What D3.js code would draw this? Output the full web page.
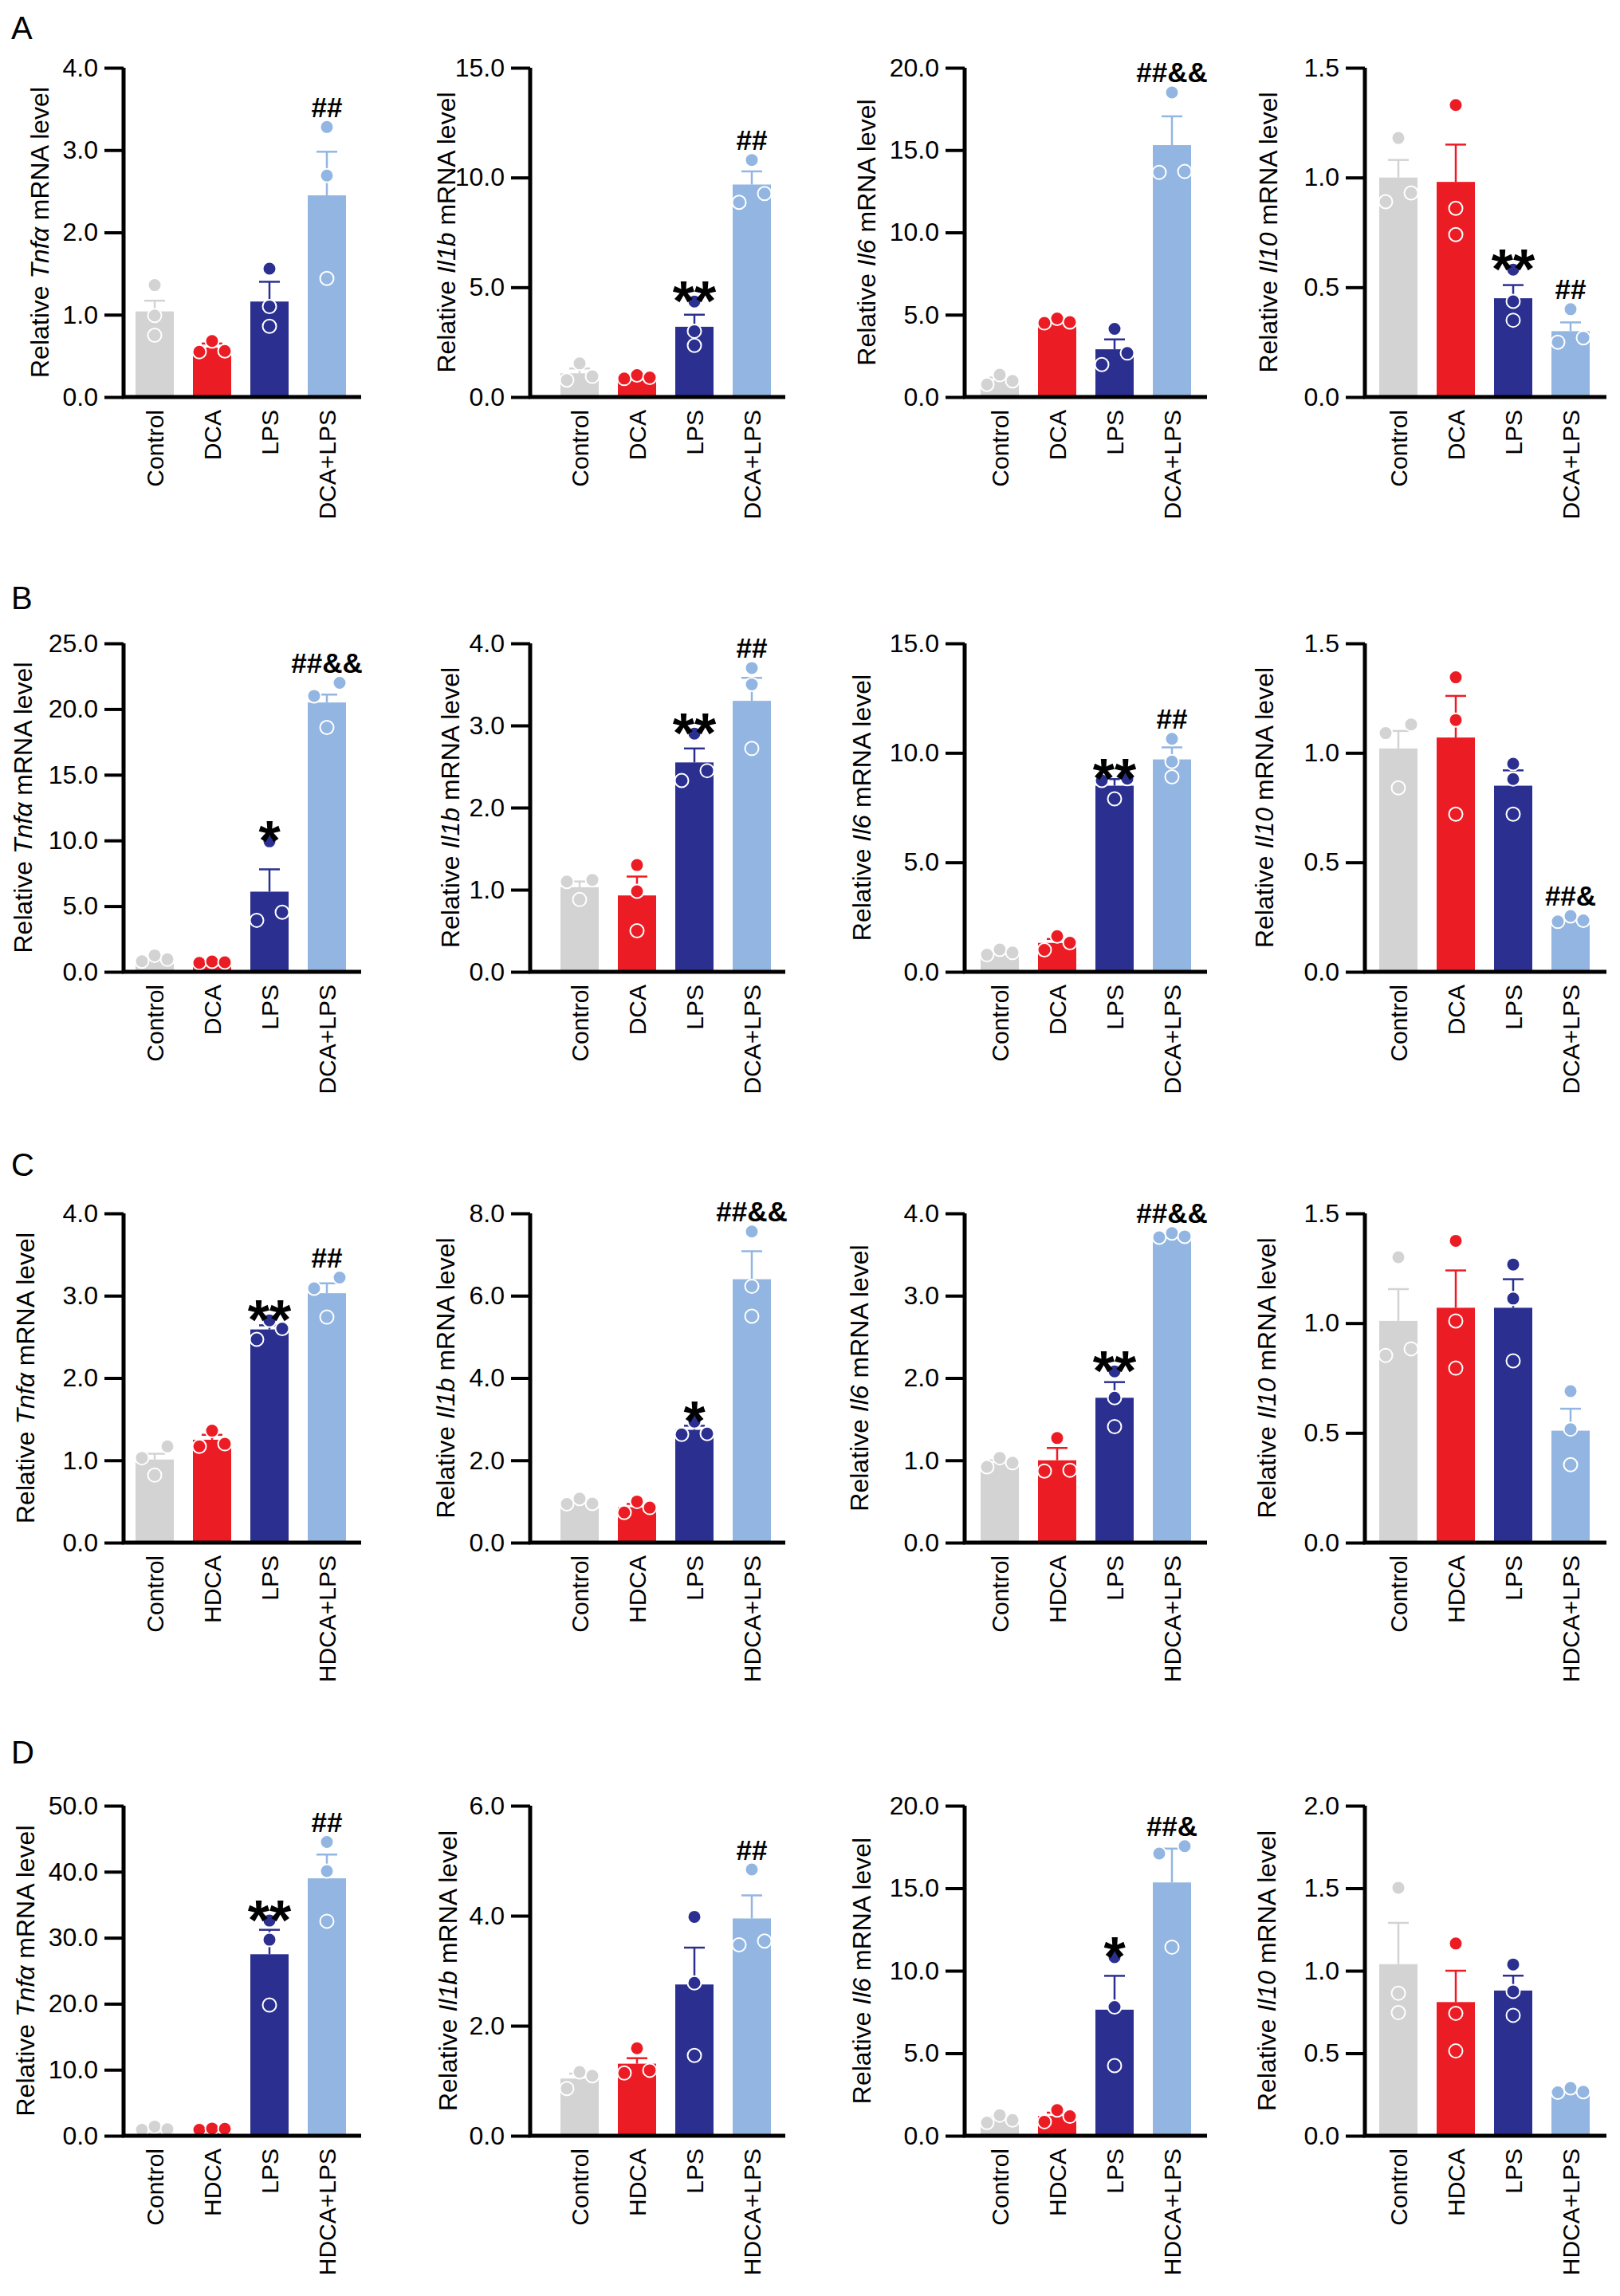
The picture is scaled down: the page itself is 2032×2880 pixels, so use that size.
<!DOCTYPE html>
<html><head><meta charset="utf-8">
<script src="https://cdn.jsdelivr.net/npm/d3@7"></script>
<style>
body{margin:0;background:#fff;}
text{font-family:"Liberation Sans", Arial, Helvetica, sans-serif;fill:#000;}
</style>
</head><body>
<svg id="fig" width="2032" height="2880"></svg>
<script>
// ---------------- DATA ----------------
const panelLetters = ["A", "B", "C", "D"];
const categoriesDCA = ["Control", "DCA", "LPS", "DCA+LPS"];
const categoriesHDCA = ["Control", "HDCA", "LPS", "HDCA+LPS"];
const genes = ["Tnfα", "Il1b", "Il6", "Il10"];
const groupColors = ["#d3d3d3", "#ec1c24", "#2b3090", "#92b6e1"];

// y-axis maxima and tick steps, per row (A..D) and gene
const yMaxA = [4, 15, 20, 1.5];
const yMaxB = [25, 4, 15, 1.5];
const yMaxC = [4, 8, 4, 1.5];
const yMaxD = [50, 6, 20, 2];
const yStepA = [1, 5, 5, 0.5];
const yStepB = [5, 1, 5, 0.5];
const yStepC = [1, 2, 1, 0.5];
const yStepD = [10, 2, 5, 0.5];

// means, per gene [Control, BA, LPS, BA+LPS]
const meansA = [[1.04, 0.60, 1.16, 2.45], [1.08, 0.90, 3.20, 9.68], [1.00, 4.60, 2.90, 15.30], [1.00, 0.98, 0.45, 0.30]];
const meansB = [[1.00, 0.72, 6.10, 20.50], [1.03, 0.93, 2.55, 3.30], [0.90, 1.32, 8.50, 9.70], [1.02, 1.07, 0.85, 0.24]];
const meansC = [[1.01, 1.25, 2.59, 3.03], [0.99, 0.86, 2.74, 6.40], [0.97, 1.00, 1.76, 3.73], [1.01, 1.07, 1.07, 0.51]];
const meansD = [[1.10, 1.00, 27.50, 39.00], [1.04, 1.31, 2.75, 3.95], [1.00, 1.20, 7.64, 15.35], [1.04, 0.81, 0.88, 0.273]];

// SEM
const semA = [[0.13, 0.05, 0.24, 0.53], [0.22, 0.05, 0.55, 0.60], [0.18, 0.08, 0.60, 1.75], [0.08, 0.17, 0.06, 0.04]];
const semB = [[0.13, 0.03, 1.70, 0.60], [0.07, 0.23, 0.17, 0.28], [0.08, 0.18, 0.30, 0.55], [0.08, 0.19, 0.07, 0.01]];
const semC = [[0.07, 0.06, 0.05, 0.12], [0.04, 0.08, 0.10, 0.68], [0.03, 0.15, 0.19, 0.02], [0.145, 0.17, 0.13, 0.10]];
const semD = [[0.15, 0.08, 3.70, 3.60], [0.09, 0.10, 0.67, 0.42], [0.13, 0.20, 2.05, 2.05], [0.25, 0.19, 0.09, 0.01]];

// individual replicate points
const pointsA = [
  [[1.36, 0.99, 0.75], [0.68, 0.56, 0.55], [1.56, 1.10, 0.86], [3.28, 2.69, 1.44]],
  [[1.53, 0.77, 0.94], [0.84, 1.00, 0.89], [4.35, 3.00, 2.35], [10.80, 8.87, 9.27]],
  [[1.35, 0.76, 0.98], [4.50, 4.77, 4.55], [4.14, 1.97, 2.67], [18.50, 13.65, 13.70]],
  [[1.18, 0.89, 0.93], [1.33, 0.86, 0.74], [0.58, 0.436, 0.35], [0.40, 0.25, 0.27]]
];
const pointsB = [
  [[1.25, 0.80, 0.95], [0.68, 0.79, 0.73], [9.93, 3.92, 4.54], [22.00, 21.00, 18.60]],
  [[1.10, 1.12, 0.88], [1.30, 0.98, 0.50], [2.90, 2.33, 2.45], [3.70, 3.50, 2.72]],
  [[0.78, 1.02, 0.88], [1.00, 1.63, 1.33], [8.74, 8.82, 7.90], [10.64, 9.60, 8.90]],
  [[1.13, 1.09, 0.84], [1.345, 1.15, 0.72], [0.95, 0.88, 0.72], [0.23, 0.255, 0.235]]
];
const pointsC = [
  [[1.17, 1.03, 0.82], [1.36, 1.17, 1.20], [2.70, 2.47, 2.60], [3.22, 3.09, 2.74]],
  [[0.94, 1.07, 0.95], [0.73, 1.00, 0.85], [2.94, 2.63, 2.65], [7.56, 6.23, 5.50]],
  [[0.92, 1.03, 0.97], [1.27, 0.87, 0.88], [2.08, 1.76, 1.41], [3.71, 3.76, 3.72]],
  [[1.30, 0.853, 0.883], [1.375, 1.01, 0.795], [1.267, 1.112, 0.828], [0.69, 0.517, 0.355]]
];
const pointsD = [
  [[0.90, 1.40, 1.00], [0.90, 1.10, 1.05], [32.60, 29.70, 19.80], [44.50, 40.10, 32.50]],
  [[1.16, 1.09, 0.86], [1.59, 1.14, 1.19], [3.98, 2.78, 1.46], [4.84, 3.47, 3.54]],
  [[0.80, 1.25, 0.95], [0.85, 1.56, 1.18], [10.82, 7.80, 4.25], [17.55, 17.10, 11.43]],
  [[1.503, 0.864, 0.746], [1.165, 0.742, 0.514], [1.038, 0.875, 0.73], [0.263, 0.29, 0.267]]
];

// significance labels
const statsA = [["", "", "", "##"], ["", "", "**", "##"], ["", "", "", "##&&"], ["", "", "**", "##"]];
const statsB = [["", "", "*", "##&&"], ["", "", "**", "##"], ["", "", "**", "##"], ["", "", "", "##&"]];
const statsC = [["", "", "**", "##"], ["", "", "*", "##&&"], ["", "", "**", "##&&"], ["", "", "", ""]];
const statsD = [["", "", "**", "##"], ["", "", "", "##"], ["", "", "*", "##&"], ["", "", "", ""]];

// ---------------- LAYOUT ----------------
const rowTop = [85, 807, 1522, 2265];
const rowBottom = [498, 1219, 1935, 2679];
const letterBaseline = [49, 764, 1475, 2212];
const colX = [155, 665, 1210, 1712];
const colLead = [3, 26, 8, 6];
const colAxisLen = [298, 320, 304, 303];
const bandStep = 72;
const barWidth = 48;
const titleOffsets = [[-105, -105, -123, -121], [-126, -100, -129, -126], [-123, -106, -132, -123], [-123, -103, -129, -123]];

const rows = [
  {cats: categoriesDCA, yMax: yMaxA, yStep: yStepA, means: meansA, sem: semA, pts: pointsA, stats: statsA},
  {cats: categoriesDCA, yMax: yMaxB, yStep: yStepB, means: meansB, sem: semB, pts: pointsB, stats: statsB},
  {cats: categoriesHDCA, yMax: yMaxC, yStep: yStepC, means: meansC, sem: semC, pts: pointsC, stats: statsC},
  {cats: categoriesHDCA, yMax: yMaxD, yStep: yStepD, means: meansD, sem: semD, pts: pointsD, stats: statsD}
];

const svg = d3.select("#fig");
svg.append("rect").attr("width", 2032).attr("height", 2880).attr("fill", "#fff");

const R = 8.5, DX = 16, THR = 17;

function swarm(vals, y) {
  const idx = vals.map((v, i) => i).sort((a, b) => vals[a] - vals[b]);
  const off = vals.map(() => 0);
  const clusters = [];
  let cur = [idx[0]];
  for (let k = 1; k < idx.length; k++) {
    if (Math.abs(y(vals[idx[k]]) - y(vals[idx[k - 1]])) < THR) cur.push(idx[k]);
    else { clusters.push(cur); cur = [idx[k]]; }
  }
  clusters.push(cur);
  clusters.forEach(c => {
    if (c.length === 2) { off[c[0]] = -DX; off[c[1]] = DX; }
    else if (c.length >= 3) { off[c[0]] = -DX; off[c[1]] = DX; off[c[2]] = 0; }
  });
  return off;
}

rows.forEach((row, ri) => {
  svg.append("text").attr("x", 14).attr("y", letterBaseline[ri])
    .attr("font-size", 40).text(panelLetters[ri]);

  genes.forEach((gene, gi) => {
    const x0 = colX[gi];
    const yTop = rowTop[ri], yBot = rowBottom[ri];
    const yMax = row.yMax[gi], yStep = row.yStep[gi];
    const y = d3.scaleLinear().domain([0, yMax]).range([yBot, yTop]);
    const x = d3.scaleBand().domain(row.cats)
      .range([x0 + colLead[gi], x0 + colLead[gi] + 4 * bandStep])
      .paddingInner(1 - barWidth / bandStep).paddingOuter((1 - barWidth / bandStep) / 2);
    const g = svg.append("g");

    const means = row.means[gi], sem = row.sem[gi], pts = row.pts[gi], stats = row.stats[gi];

    // bars
    g.selectAll("rect.bar").data(row.cats).join("rect")
      .attr("x", d => x(d)).attr("width", x.bandwidth())
      .attr("y", (d, i) => y(means[i])).attr("height", (d, i) => yBot - y(means[i]))
      .attr("fill", (d, i) => groupColors[i]);

    // error bars (upper only)
    row.cats.forEach((c, i) => {
      const cx = x(c) + x.bandwidth() / 2;
      const top = y(means[i] + sem[i]);
      g.append("line").attr("x1", cx).attr("x2", cx).attr("y1", y(means[i])).attr("y2", top)
        .attr("stroke", groupColors[i]).attr("stroke-width", 2.5);
      g.append("line").attr("x1", cx - 13).attr("x2", cx + 13).attr("y1", top).attr("y2", top)
        .attr("stroke", groupColors[i]).attr("stroke-width", 2.5);
    });

    // points
    row.cats.forEach((c, i) => {
      const cx = x(c) + x.bandwidth() / 2;
      const off = swarm(pts[i], y);
      g.selectAll(null).data(pts[i]).join("circle")
        .attr("cx", (d, k) => cx + off[k]).attr("cy", d => y(d)).attr("r", R)
        .attr("fill", groupColors[i]).attr("stroke", "#fff").attr("stroke-width", 2);
    });

    // significance labels
    row.cats.forEach((c, i) => {
      if (!stats[i]) return;
      const cx = x(c) + x.bandwidth() / 2;
      const topY = Math.min(y(means[i] + sem[i]), y(d3.max(pts[i])) - R);
      const s = stats[i];
      if (s.indexOf("*") >= 0) {
        g.append("text").attr("x", cx).attr("y", topY + 3 + 0.42 * 70)
          .attr("text-anchor", "middle").attr("font-size", 70).attr("font-weight", "bold").text(s);
      } else {
        g.append("text").attr("x", cx).attr("y", topY - 4)
          .attr("text-anchor", "middle").attr("font-size", 35).attr("font-weight", "bold").text(s);
      }
    });

    // y axis
    const ticks = d3.range(0, yMax + yStep / 2, yStep);
    const yAxis = d3.axisLeft(y).tickValues(ticks).tickFormat(d3.format(".1f")).tickSize(24).tickPadding(8);
    const ag = g.append("g").attr("transform", `translate(${x0},0)`).call(yAxis);
    ag.select(".domain").attr("stroke", "#000").attr("stroke-width", 5).attr("d", `M0,${yTop}V${yBot}`);
    ag.selectAll(".tick line").attr("stroke", "#000").attr("stroke-width", 4);
    ag.selectAll(".tick text").attr("font-size", 32).attr("fill", "#000")
      .attr("font-family", '"Liberation Sans", Arial, sans-serif');

    // x axis line
    const xAxis = d3.axisBottom(x).tickSize(0).tickPadding(0).tickFormat("");
    const xg = g.append("g").attr("transform", `translate(0,${yBot})`).call(xAxis);
    xg.select(".domain").attr("stroke", "#000").attr("stroke-width", 5)
      .attr("d", `M${x0 - 2},0H${x0 + colAxisLen[gi]}`);

    // category labels
    row.cats.forEach(c => {
      const cx = x(c) + x.bandwidth() / 2;
      g.append("text").attr("transform", `translate(${cx},${yBot + 16}) rotate(-90)`)
        .attr("text-anchor", "end").attr("dy", "0.35em").attr("font-size", 30).text(c);
    });

    // y title
    const tx = x0 + titleOffsets[ri][gi];
    const ty = (yTop + yBot) / 2;
    const t = g.append("text").attr("transform", `translate(${tx},${ty}) rotate(-90)`)
      .attr("text-anchor", "middle").attr("dy", "0.35em").attr("font-size", 32);
    t.append("tspan").text("Relative ");
    t.append("tspan").attr("font-style", "italic").text(gene);
    t.append("tspan").text(" mRNA level");
  });
});
</script>
</body></html>
